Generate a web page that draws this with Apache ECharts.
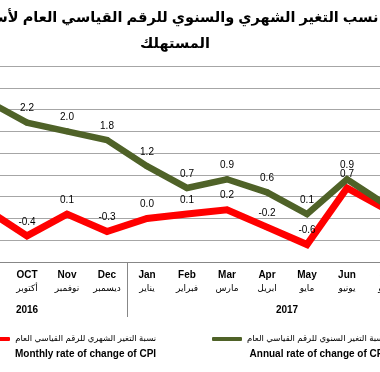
<!DOCTYPE html>
<html><head><meta charset="utf-8">
<script src="https://cdn.jsdelivr.net/npm/echarts@6/dist/echarts.min.js"></script>
<style>html,body{margin:0;padding:0;background:#fff}#c{width:380px;height:372px}</style>
</head><body><div id="c"></div>
<script>
// ---- data ----
const monthsEn = ['Aug','Sep','OCT','Nov','Dec','Jan','Feb','Mar','Apr','May','Jun','Jul','Aug'];
const monthsAr = ['أغسطس','سبتمبر','أكتوبر','نوفمبر','ديسمبر','يناير','فبراير','مارس','ابريل','مايو','يونيو','يوليو','أغسطس'];
const years = ['2016','2017'];
const yearMonthCounts = [5, 8];
const monthlyRate = [null, 0.2, -0.4, 0.1, -0.3, 0.0, 0.1, 0.2, -0.2, -0.6, 0.7, 0.2, null];
const annualRate  = [null, 2.7, 2.2, 2.0, 1.8, 1.2, 0.7, 0.9, 0.6, 0.1, 0.9, 0.3, null];
const yMin = -1, yMax = 3.5, yStep = 0.5;
const monthlyNameAr = 'نسبة التغير الشهري للرقم القياسي العام';
const monthlyNameEn = 'Monthly rate of change of CPI';
const annualNameAr = 'نسبة التغير السنوي للرقم القياسي العام';
const annualNameEn = 'Annual rate of change of CPI';
const titleText = 'نسب التغير الشهري والسنوي للرقم القياسي العام لأسعار\nالمستهلك';

// ---- derived ----
const categories = monthsEn.map((m, i) => m + '|' + monthsAr[i]);
const bounds = [0];
yearMonthCounts.forEach(c => bounds.push(bounds[bounds.length - 1] + c));
const yearCenters = years.map((y, i) => (bounds[i] + bounds[i + 1]) / 2);
const enByAr = {}; enByAr[monthlyNameAr] = monthlyNameEn; enByAr[annualNameAr] = annualNameEn;

const FF = "'Liberation Sans', 'DejaVu Sans', Arial, sans-serif";
const GREEN = '#4f6228', RED = '#ff0000';

function labelCfg() {
  return { show: true, position: 'top', distance: 6, fontSize: 10, color: '#000', fontFamily: FF,
    formatter: p => (p.value == null ? '' : Number(p.value).toFixed(1)) };
}
function legendCfg(name, left) {
  return {
    data: [name], left: left, top: 316.5, padding: 0, icon: 'roundRect', itemWidth: 30, itemHeight: 4,
    selectedMode: false,
    formatter: n => '{sp| }\n{ar|' + n + '}\n{en|' + enByAr[n] + '}',
    textStyle: { fontFamily: FF, lineHeight: 15, color: '#000',
      rich: {
        sp: { fontSize: 9, lineHeight: 15 },
        ar: { fontSize: 8.5, lineHeight: 15, align: 'right', color: '#000', fontFamily: FF },
        en: { fontSize: 10, lineHeight: 15, align: 'right', fontWeight: 'bold', color: '#000', fontFamily: FF }
      } }
  };
}

const chart = echarts.init(document.getElementById('c'), null, { renderer: 'canvas' });
chart.setOption({
  animation: false,
  backgroundColor: '#fff',
  title: { text: titleText, left: 170, top: 0, textAlign: 'center',
    textStyle: { fontFamily: FF, fontSize: 14.5, fontWeight: 'bold', color: '#000', lineHeight: 26 } },
  legend: [legendCfg(monthlyNameAr, -20), legendCfg(annualNameAr, 212)],
  grid: { left: -73, right: -67, top: 66, bottom: 110, containLabel: false, outerBoundsMode: 'none' },
  xAxis: [
    { type: 'category', data: categories, boundaryGap: true, position: 'bottom',
      axisLine: { onZero: false, lineStyle: { color: '#878787', width: 1 } },
      axisTick: { show: false },
      axisLabel: { interval: 0, margin: 7, fontFamily: FF, hideOverlap: false,
        formatter: v => { const p = v.split('|'); return '{en|' + p[0] + '}\n{ar|' + p[1] + '}'; },
        rich: { en: { fontSize: 10, fontWeight: 'bold', color: '#000', lineHeight: 13, fontFamily: FF },
                ar: { fontSize: 9, color: '#000', lineHeight: 13, fontFamily: FF } } },
      splitLine: { show: false } },
    { type: 'value', min: 0, max: bounds[bounds.length - 1], position: 'bottom', offset: 0,
      axisLine: { show: false, onZero: false },
      splitLine: { show: false },
      axisTick: { show: true, customValues: bounds, length: 55, inside: false,
        lineStyle: { color: '#878787', width: 1 } },
      axisLabel: { show: true, customValues: yearCenters, margin: 43, fontSize: 10, fontWeight: 'bold',
        color: '#000', fontFamily: FF,
        formatter: v => { const i = yearCenters.indexOf(v); return i >= 0 ? years[i] : ''; } } }
  ],
  yAxis: { type: 'value', min: yMin, max: yMax, interval: yStep,
    axisLine: { show: false }, axisTick: { show: false }, axisLabel: { show: false },
    splitLine: { show: true, lineStyle: { color: '#a6a6a6', width: 1 } } },
  series: [
    { name: monthlyNameAr, type: 'line', data: monthlyRate, xAxisIndex: 0, color: RED,
      lineStyle: { width: 7, color: RED, join: 'miter' }, symbol: 'circle', symbolSize: 6,
      itemStyle: { color: RED }, label: labelCfg(), emphasis: { disabled: true }, z: 2 },
    { name: annualNameAr, type: 'line', data: annualRate, xAxisIndex: 0, color: GREEN,
      lineStyle: { width: 6.5, color: GREEN, join: 'miter' }, symbol: 'circle', symbolSize: 6,
      itemStyle: { color: GREEN }, label: labelCfg(), emphasis: { disabled: true }, z: 3 }
  ]
});
</script></body></html>
